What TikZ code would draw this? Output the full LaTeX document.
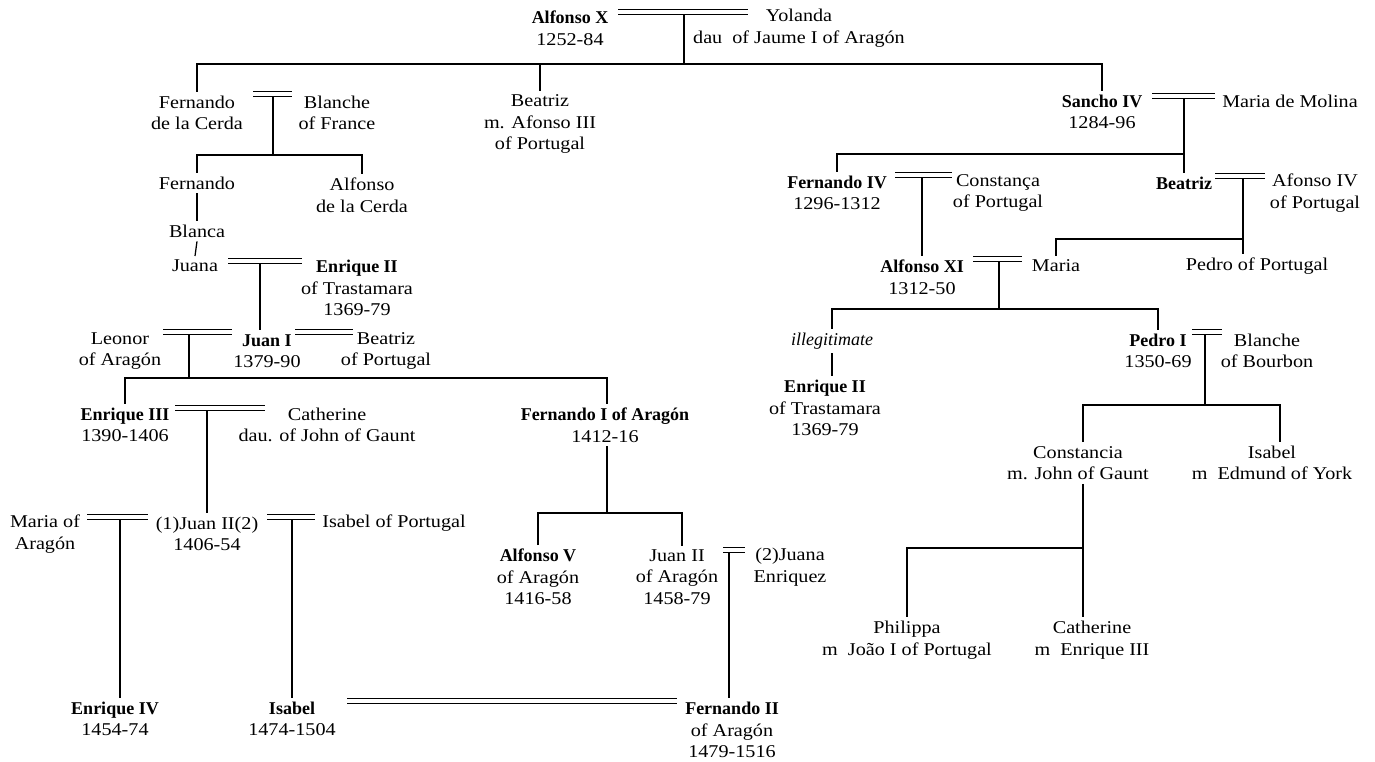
\documentclass[tikz,border=0pt]{standalone}
\usepackage{fontspec}
\setmainfont{Liberation Serif}[FakeStretch=1.12]
\newfontfamily\bfn{Liberation Serif Bold}
\newfontfamily\itn{Liberation Serif Italic}
\newcommand\bnm[1]{{\bfn #1}}
\begin{document}
\begin{tikzpicture}[x=1pt,y=-1pt,
  person/.style={align=center, inner sep=0pt, outer sep=4pt, font=\fontsize{18}{21.5}\selectfont},
  link/.style={line width=1.25pt},
  rule/.style={line width=1pt}]
\useasboundingbox[fill=white] (0,0) rectangle (1375,761);

% ---------- people ----------
\node[person] (AX) at (570,28) {\bnm{Alfonso X}\\1252-84};
\node[person] (YO) at (799,28) {Yolanda\\dau\ \ of Jaume I of Aragón};

\node[person] (FC) at (197,113) {Fernando\\de la Cerda};
\node[person] (BF) at (337,113) {Blanche\\of France};
\node[person] (BT) at (540,124) {Beatriz\\m. Afonso III\\of Portugal};
\node[person] (FE) at (197,183) {Fernando};
\node[person] (AC) at (362,195) {Alfonso\\de la Cerda};
\node[person] (BL) at (197,231) {Blanca};
\node[person] (JU) at (195,266) {Juana};
\node[person] (E2) at (357,288) {\bnm{Enrique II}\\of Trastamara\\1369-79};
\node[person] (LE) at (120,351) {Leonor\\of Aragón};
\node[person] (J1) at (267,351) {\bnm{Juan I}\\1379-90};
\node[person] (BP) at (386,351) {Beatriz\\of Portugal};
\node[person] (E3) at (125,425) {\bnm{Enrique III}\\1390-1406};
\node[person] (CA) at (327,425) {Catherine\\dau. of John of Gaunt};
\node[person] (F1) at (605,425) {\bnm{Fernando I of Aragón}\\1412-16};
\node[person] (MA) at (45,534) {Maria of\\Aragón};
\node[person] (J2) at (207,534) {(1)Juan II(2)\\1406-54};
\node[person] (IP) at (394,523) {Isabel of Portugal};
\node[person] (AV) at (538,577) {\bnm{Alfonso V}\\of Aragón\\1416-58};
\node[person] (JA) at (677,577) {Juan II\\of Aragón\\1458-79};
\node[person] (JE) at (790,567) {(2)Juana\\Enriquez};
\node[person] (E4) at (115,719) {\bnm{Enrique IV}\\1454-74};
\node[person] (IS) at (292,719) {\bnm{Isabel}\\1474-1504};
\node[person] (F2) at (732,730) {\bnm{Fernando II}\\of Aragón\\1479-1516};

\node[person] (S4) at (1102,112) {\bnm{Sancho IV}\\1284-96};
\node[person] (MM) at (1290,101) {Maria de Molina};
\node[person] (F4) at (837,193) {\bnm{Fernando IV}\\1296-1312};
\node[person] (CO) at (998,193) {Constança\\of Portugal};
\node[person] (B2) at (1184,183) {\bnm{Beatriz}};
\node[person] (AF) at (1315,193) {Afonso IV\\of Portugal};
\node[person] (A11) at (922,277) {\bnm{Alfonso XI}\\1312-50};
\node[person] (MR) at (1056,266) {Maria};
\node[person] (PP) at (1257,266) {Pedro of Portugal};
\node[person] (IL) at (832,341) {\itn illegitimate};
\node[person] (E2b) at (825,408) {\bnm{Enrique II}\\of Trastamara\\1369-79};
\node[person] (P1) at (1158,351) {\bnm{Pedro I}\\1350-69};
\node[person] (BB) at (1267,351) {Blanche\\of Bourbon};
\node[person] (CS) at (1078,463) {Constancia\\m. John of Gaunt};
\node[person] (IY) at (1272,463) {Isabel\\m\ \ Edmund of York};
\node[person] (PH) at (907,640) {Philippa\\m\ \ João I of Portugal};
\node[person] (CT) at (1092,640) {Catherine\\m\ \ Enrique III};

% ---------- marriages (double rules) ----------
\coordinate (m0a) at (618,12);    \coordinate (m0b) at (748,12);
\coordinate (m1a) at (253,94);    \coordinate (m1b) at (292,94);
\coordinate (m2a) at (228,261);   \coordinate (m2b) at (302,261);
\coordinate (m3a) at (163,332);   \coordinate (m3b) at (232,332);
\coordinate (m4a) at (295,332);   \coordinate (m4b) at (353,332);
\coordinate (m5a) at (175,408);   \coordinate (m5b) at (265,408);
\coordinate (m6a) at (87,517);    \coordinate (m6b) at (148,517);
\coordinate (m7a) at (267,517);   \coordinate (m7b) at (315,517);
\coordinate (m8a) at (723,550);   \coordinate (m8b) at (745,550);
\coordinate (m9a) at (347,701);   \coordinate (m9b) at (677,701);
\coordinate (m10a) at (1152,96);  \coordinate (m10b) at (1215,96);
\coordinate (m11a) at (895,175);  \coordinate (m11b) at (952,175);
\coordinate (m12a) at (1215,176); \coordinate (m12b) at (1265,176);
\coordinate (m13a) at (973,259);  \coordinate (m13b) at (1022,259);
\coordinate (m14a) at (1192,332); \coordinate (m14b) at (1222,332);
\foreach \m in {m0,m1,m2,m3,m4,m5,m6,m7,m8,m9,m10,m11,m12,m13,m14} {
  \draw[rule] ([yshift=2.2pt]\m a) -- ([yshift=2.2pt]\m b);
  \draw[rule] ([yshift=-2.2pt]\m a) -- ([yshift=-2.2pt]\m b);
}

% ---------- descent junctions ----------
\coordinate (d0) at (684,14);     \coordinate (h0) at (684,64);
\coordinate (d1) at (273,96);     \coordinate (h1) at (273,155);
\coordinate (d2) at (260,263);
\coordinate (d3) at (189,334);    \coordinate (h3) at (189,378);
\coordinate (f1) at (607,378);
\coordinate (d5) at (207,410);
\coordinate (h4) at (607,513);    \coordinate (ja) at (682,513);
\coordinate (d6) at (120,519);
\coordinate (d7) at (292,519);
\coordinate (d8) at (729,552);
\coordinate (d10) at (1184,98);   \coordinate (h5) at (1184,154);
\coordinate (d11) at (922,177);
\coordinate (d12) at (1243,178);  \coordinate (h12) at (1243,239);
\coordinate (d13) at (999,261);   \coordinate (h13) at (999,309);
\coordinate (d14) at (1205,334);  \coordinate (h14) at (1205,405);
\coordinate (c1) at (1083,405);   \coordinate (c2) at (1280,405);
\coordinate (h8) at (1083,548);

% ---------- descent lines ----------
\draw[link] (d0) -- (h0);
\draw[link] (FC.north) |- (h0) -| (S4.north);
\draw[link] (BT.north) -- (BT.north |- h0);

\draw[link] (d1) -- (h1);
\draw[link] (FE.north) |- (h1) -| (AC.north);
\draw[link] (FE.south) -- (BL.north);
\draw[link] (BL.south) -- (JU.north);

\draw[link] (d2) -- (d2 |- J1.north);

\draw[link] (d3) -- (h3);
\draw[link] (E3.north) |- (f1) -- (f1 |- F1.north);

\draw[link] (d5) -- (d5 |- J2.north);

\draw[link] (h4 |- F1.south) -- (h4);
\draw[link] (AV.north) |- (ja) -- (ja |- JA.north);

\draw[link] (d6) -- (d6 |- E4.north);
\draw[link] (d7) -- (IS.north);
\draw[link] (d8) -- (d8 |- F2.north);

\draw[link] (d10) -- (B2.north);
\draw[link] (F4.north) |- (h5);
\draw[link] (d11) -- (A11.north);
\draw[link] (d12) -- (d12 |- PP.north);
\draw[link] (MR.north) |- (h12);
\draw[link] (d13) -- (h13);
\draw[link] (IL.north) |- (h13) -| (P1.north);
\draw[link] (IL.south) -- (IL.south |- E2b.north);
\draw[link] (d14) -- (h14);
\draw[link] (c1 |- CS.north) -- (c1) -- (c2) -- (c2 |- IY.north);
\draw[link] (h8 |- CS.south) -- (h8 |- CT.north);
\draw[link] (h8) -| (PH.north);
\end{tikzpicture}
\end{document}
